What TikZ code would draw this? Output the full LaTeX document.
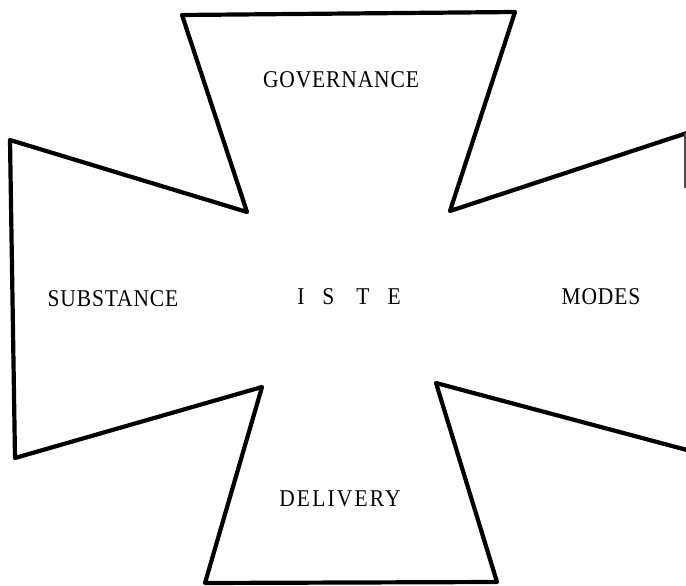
\documentclass[tikz,border=0pt]{standalone}
\usepackage{fontspec}
\setmainfont{Liberation Serif}
\newfontfamily\labelfont[LetterSpace=4]{Liberation Serif}
\newfontfamily\widelabelfont[LetterSpace=10]{Liberation Serif}
\begin{document}
\begin{tikzpicture}[x=1pt,y=-1pt,
  outline/.style={line width=4.2pt, line join=round, line cap=round},
  armlabel/.style={font=\labelfont\fontsize{21.5}{24}\selectfont, inner sep=0pt, yscale=1.12}]
\useasboundingbox (0,0) rectangle (686,586);
\fill[white] (0,0) rectangle (686,586);
% corners
\coordinate (tl) at (182,15);
\coordinate (tr) at (515,12);
\coordinate (itr) at (450,211);
\coordinate (rtop) at (687,133);
\coordinate (rbot) at (687,450);
\coordinate (ibr) at (436,383);
\coordinate (br) at (497,582);
\coordinate (bl) at (205,583);
\coordinate (ibl) at (262,387);
\coordinate (lbot) at (15,458);
\coordinate (ltop) at (10,140);
\coordinate (itl) at (247,212);
\begin{scope}
\clip (0,0) rectangle (686,586);
\draw[outline] (rbot) -- (ibr) -- (br) -- (bl) -- (ibl) -- (lbot) -- (ltop) -- (itl) -- (tl) -- (tr) -- (itr) -- (rtop);
\coordinate (redge1) at (685,133);
\coordinate (redge2) at (685,188);
\draw[line width=1.4pt, black!70] (redge1) -- (redge2);
\end{scope}
\node[armlabel] (gov) at (341,80) {GOVERNANCE};
\node[armlabel] (sub) at (113,299) {SUBSTANCE};
\node[armlabel] (modes) at (601,297) {MODES};
\node[armlabel, font=\widelabelfont\fontsize{21.5}{24}\selectfont] (del) at (340,499) {DELIVERY};
\node[armlabel] (iste) at (349,297) {I\hspace{18pt}S\hspace{22pt}T\hspace{18pt}E};
\end{tikzpicture}
\end{document}
